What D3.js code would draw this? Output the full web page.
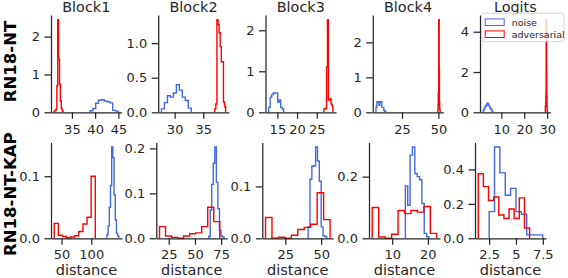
<!DOCTYPE html>
<html>
<head>
<meta charset="utf-8">
<script src="https://cdn.jsdelivr.net/npm/d3@7"></script>
<style>
  body { margin: 0; background: #fff; }
  svg { display: block; font-family: "DejaVu Sans", sans-serif; }
</style>
</head>
<body>
<script>
// column titles and row labels
const blocks = ['Block1', 'Block2', 'Block3', 'Block4', 'Logits'];
const models = ['RN18-NT', 'RN18-NT-KAP'];
const seriesNames = ['noise', 'adversarial'];

// histogram bin ranges [lo, hi] and densities (10 bins), panels row by row
const noiseRange = [
  [38.9, 45.0], [27.7, 32.9], [12.8, 16.6], [7.1, 13.8], [2.1, 6.3],
  [126.5, 146.4], [63.1, 77.8], [40.9, 53.9], [13.7, 20.3], [2.5, 7.5]
];
const noiseDensity = [
  [0.04, 0.1, 0.24, 0.32, 0.33, 0.3, 0.28, 0.25, 0.05, 0.03],
  [0.05, 0.14, 0.24, 0.22, 0.28, 0.4, 0.32, 0.22, 0.17, 0.06],
  [0.12, 0.37, 0.43, 0.47, 0.47, 0.47, 0.25, 0.3, 0.12, 0.08],
  [0.14, 0.3, 0.3, 0.2, 0.3, 0.3, 0.14, 0.14, 0.05, 0.03],
  [0.1, 0.2, 0.3, 0.35, 0.45, 0.4, 0.3, 0.2, 0.15, 0.05],
  [0.006, 0.02, 0.05, 0.085, 0.147, 0.13, 0.07, 0.03, 0.008, 0.004],
  [0.004, 0.063, 0.12, 0.167, 0.203, 0.125, 0.066, 0.018, 0.005, 0.003],
  [0.022, 0.114, 0.139, 0.14, 0.176, 0.149, 0.11, 0.022, 0.005, 0.003],
  [0.17, 0.107, 0.27, 0.296, 0.21, 0.2, 0.19, 0.113, 0.016, 0.005],
  [0.155, 0.53, 0.38, 0.25, 0.29, 0.155, 0.14, 0.02, 0.02, 0.02]
];
const advRange = [
  [31.2, 33.1], [37.0, 38.9], [26.8, 29.1], [49.6, 51.2], [29.2, 30.1],
  [37.6, 106.8], [16.2, 73.7], [11.2, 56.2], [4.4, 22.5], [1.48, 6.27]
];
const advDensity = [
  [0.03, 0.05, 0.08, 0.7, 2.45, 1.4, 0.75, 0.3, 0.1, 0.04],
  [0.05, 0.12, 1.34, 1.27, 1.15, 0.95, 0.73, 0.73, 0.15, 0.08],
  [0.08, 0.08, 0.1, 1.1, 2.26, 0.3, 0.3, 0.33, 0.2, 0.15],
  [0.05, 0.2, 0.55, 0.55, 2.65, 2.65, 1.2, 0.3, 0.1, 0.05],
  [0.3, 0.3, 0.5, 1.0, 4.6, 4.6, 2.0, 0.8, 0.3, 0.1],
  [0.024, 0.005, 0.003, 0.001, 0.002, 0.004, 0.011, 0.023, 0.034, 0.1],
  [0.026, 0.005, 0.002, 0.0, 0.005, 0.01, 0.012, 0.026, 0.069, 0.037],
  [0.04, 0.0, 0.002, 0.0, 0.006, 0.017, 0.021, 0.027, 0.088, 0.036],
  [0.1, 0.004, 0.0, 0.013, 0.09, 0.08, 0.09, 0.085, 0.103, 0.016],
  [0.375, 0.3, 0.22, 0.24, 0.135, 0.115, 0.17, 0.115, 0.235, 0.06]
];

// tick values and labels
const xTicks = [
  [35, 40, 45], [30, 35], [15, 20, 25], [25, 50], [10, 20, 30],
  [50, 100], [25, 50, 75], [25, 50], [10, 20], [2.5, 5, 7.5]
];
const xTickLabels = [
  ['35', '40', '45'], ['30', '35'], ['15', '20', '25'], ['25', '50'], ['10', '20', '30'],
  ['50', '100'], ['25', '50', '75'], ['25', '50'], ['10', '20'], ['2.5', '5', '7.5']
];
const yTicks = [
  [0, 1, 2], [0, 0.5, 1.0], [0, 1, 2], [0, 1, 2], [0, 2, 4],
  [0, 0.1], [0, 0.1, 0.2], [0, 0.1], [0, 0.2], [0, 0.2, 0.4]
];
const yTickLabels = [
  ['0', '1', '2'], ['0.0', '0.5', '1.0'], ['0', '1', '2'], ['0', '1', '2'], ['0', '2', '4'],
  ['0.0', '0.1'], ['0.0', '0.1', '0.2'], ['0.0', '0.1'], ['0.0', '0.2'], ['0.0', '0.2', '0.4']
];

const width = 568;
const height = 278;
const colors = ['#4169e1', '#ff0000'];
const textColor = '#262626';

// panel layout
const rowTop = [15, 142.5];
const rowBottom = [112.3, 238.3];
const colLeft = [
  [51, 158.25, 265.5, 372.75, 480],
  [51, 156.3, 262.3, 369, 475]
];
const panelWidth = [70.6, 71];
const xTickPad = [5.5, 4.5];

const svg = d3.select('body')
  .append('svg')
  .attr('width', width)
  .attr('height', height);

function binEdges(range, n) {
  const step = (range[1] - range[0]) / n;
  return d3.range(n + 1).map(i => range[0] + i * step);
}

function stepPoints(range, dens) {
  const edges = binEdges(range, dens.length);
  const pts = [[edges[0], 0]];
  dens.forEach((v, i) => {
    pts.push([edges[i], v]);
    pts.push([edges[i + 1], v]);
  });
  pts.push([edges[edges.length - 1], 0]);
  return pts;
}

for (let r = 0; r < 2; r++) {
  for (let c = 0; c < 5; c++) {
    const k = r * 5 + c;
    const left = colLeft[r][c];
    const w = panelWidth[r];

    // autoscale like matplotlib: 5% x margins, 5% headroom on y
    const lo = Math.min(noiseRange[k][0], advRange[k][0]);
    const hi = Math.max(noiseRange[k][1], advRange[k][1]);
    const m = (hi - lo) * 0.05;
    const x = d3.scaleLinear().domain([lo - m, hi + m]).range([left, left + w]);
    const ymax = d3.max(noiseDensity[k].concat(advDensity[k])) * 1.05;
    const y = d3.scaleLinear().domain([0, ymax]).range([rowBottom[r], rowTop[r]]);

    const g = svg.append('g');

    // histograms (step)
    const line = d3.line().x(d => x(d[0])).y(d => y(d[1]));
    [[noiseRange[k], noiseDensity[k]], [advRange[k], advDensity[k]]].forEach((s, i) => {
      g.append('path')
        .attr('d', line(stepPoints(s[0], s[1])))
        .attr('fill', 'none')
        .attr('stroke', colors[i])
        .attr('stroke-width', 1.4)
        .attr('stroke-linejoin', 'miter');
    });

    // x axis
    const xa = g.append('g')
      .attr('transform', `translate(0,${rowBottom[r]})`)
      .call(d3.axisBottom(x)
        .tickValues(xTicks[k])
        .tickFormat((d, i) => xTickLabels[k][i])
        .tickSize(6.5)
        .tickSizeOuter(0)
        .tickPadding(xTickPad[r]));
    // y axis
    const ya = g.append('g')
      .attr('transform', `translate(${left},0)`)
      .call(d3.axisLeft(y)
        .tickValues(yTicks[k])
        .tickFormat((d, i) => yTickLabels[k][i])
        .tickSize(6.5)
        .tickSizeOuter(0)
        .tickPadding(4.5));
    [xa, ya].forEach(a => {
      a.attr('font-family', null).attr('font-size', null);
      a.select('.domain').attr('stroke', textColor).attr('stroke-width', 1.25);
      a.selectAll('.tick line').attr('stroke', textColor).attr('stroke-width', 1.25);
      a.selectAll('.tick text').attr('fill', textColor).style('font-size', '13px');
    });

    // titles on top row, axis label on bottom row
    if (r === 0) {
      svg.append('text')
        .attr('x', left + w / 2)
        .attr('y', 12)
        .attr('text-anchor', 'middle')
        .attr('fill', textColor)
        .style('font-size', '14.4px')
        .text(blocks[c]);
    } else {
      svg.append('text')
        .attr('x', left + w / 2)
        .attr('y', 275.3)
        .attr('text-anchor', 'middle')
        .attr('fill', textColor)
        .style('font-size', '14.5px')
        .text('distance');
    }
  }
}

// row labels
const rowLabelY = [61.5, 194.2];
models.forEach((name, r) => {
  svg.append('text')
    .attr('transform', `translate(15.5,${rowLabelY[r]}) rotate(-90)`)
    .attr('text-anchor', 'middle')
    .attr('fill', '#000')
    .style('font-size', '16.5px')
    .style('font-weight', 'bold')
    .text(name);
});

// legend in the Logits panel
const legend = svg.append('g').attr('transform', 'translate(481.7,13.3)');
legend.append('rect')
  .attr('width', 82.3)
  .attr('height', 28.4)
  .attr('rx', 2.5)
  .attr('fill', '#fff')
  .attr('fill-opacity', 0.8)
  .attr('stroke', '#cccccc')
  .attr('stroke-width', 0.8);
seriesNames.forEach((name, i) => {
  legend.append('rect')
    .attr('x', 3.5)
    .attr('y', 5.6 + i * 12)
    .attr('width', 19)
    .attr('height', 6.6)
    .attr('fill', 'none')
    .attr('stroke', colors[i])
    .attr('stroke-width', 1);
  legend.append('text')
    .attr('x', 30)
    .attr('y', 9 + i * 12)
    .attr('dy', '0.35em')
    .attr('fill', textColor)
    .style('font-size', '9.5px')
    .text(name);
});
</script>
</body>
</html>
